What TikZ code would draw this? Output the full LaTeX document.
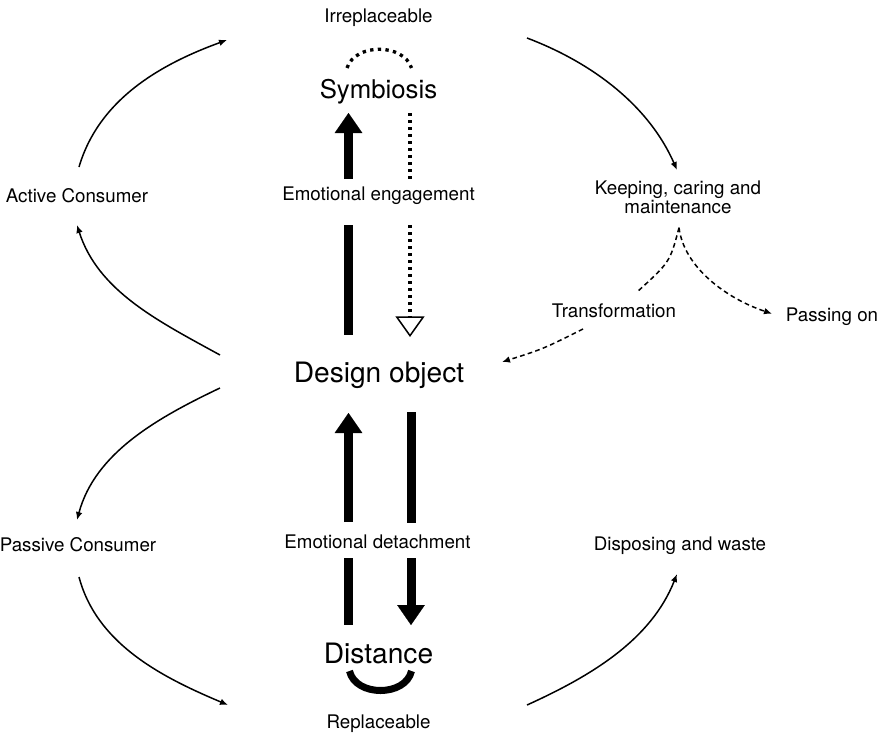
\documentclass[tikz,border=0pt]{standalone}
\usepackage{fontspec}
\setmainfont{TeX Gyre Heros}
\usetikzlibrary{arrows.meta}

\begin{document}
\begin{tikzpicture}[
  x=0.3mm,y=-0.3mm,
  lbl/.style={font=\fontsize{16}{15.6}\selectfont,anchor=base,inner sep=0pt},
  biglbl/.style={font=\fontsize{24}{24}\selectfont,anchor=base,inner sep=0pt},
  flow/.style={-{Latex[length=2.4mm,width=2mm]},line width=0.45mm},
  dashflow/.style={line width=0.45mm,dash pattern=on 1.4mm off 1mm},
  heavy/.style={line width=2.7mm},
  heavyflow/.style={heavy,-{Triangle[length=6mm,width=8.3mm,line width=0.1pt]}},
  dotline/.style={line width=1mm,dash pattern=on 0.9mm off 1.2mm},
  openflow/.style={dotline,-{Triangle[open,length=6.2mm,width=8.7mm,line width=1.3pt]}}
]
  \useasboundingbox (0,0) rectangle (880,739);

  % centre column
  \node[lbl] (irr) at (378.5,22) {Irreplaceable};
  \node[biglbl,font=\fontsize{22}{22}\selectfont] (symb) at (378.5,98) {Symbiosis};
  \node[lbl] (engage) at (378.5,200) {Emotional engagement};
  \node[biglbl] (design) at (379,382) {Design object};
  \node[lbl] (detach) at (377.5,548) {Emotional detachment};
  \node[biglbl] (dist) at (378.5,663) {Distance};
  \node[lbl] (repl) at (378.5,728) {Replaceable};

  % sides
  \node[lbl] (active) at (77,202) {Active Consumer};
  \node[lbl] (passive) at (78,551) {Passive Consumer};
  \node[lbl,anchor=north,align=center] (keep) at (678,181) {Keeping, caring and\\maintenance};
  \node[lbl] (transf) at (614,317) {Transformation};
  \node[lbl] (pass) at (832,321.7) {Passing on};
  \node[lbl] (dispose) at (680,550) {Disposing and waste};

  % engagement
  \draw[heavyflow] ([shift={(-30,-21)}]engage.base) -- ([shift={(-30,15)}]symb.base);
  \draw[dotline] ([shift={(31.5,15)}]symb.base) -- ([shift={(31.5,-21)}]engage.base);
  \draw[heavy] ([shift={(-30,25)}]engage.base) -- ([shift={(-30.5,-47)}]design.base);
  \draw[openflow] ([shift={(31.5,25)}]engage.base) -- ([shift={(31,-45)}]design.base);
  \draw[dotline,dash pattern=on 1mm off 1.3mm]
    ([shift={(-31.5,-30)}]symb.base) .. controls +(8,-25) and +(-8,-25) .. ([shift={(33,-30)}]symb.base);

  % detachment
  \draw[heavyflow] ([shift={(-29,-26)}]detach.base) -- ([shift={(-30.5,31)}]design.base);
  \draw[heavy] ([shift={(32,30)}]design.base) -- ([shift={(33.5,-25)}]detach.base);
  \draw[heavy] ([shift={(-29,10)}]detach.base) -- ([shift={(-30,-38)}]dist.base);
  \draw[heavyflow] ([shift={(33.5,10)}]detach.base) -- ([shift={(32.5,-38)}]dist.base);
  \draw[line width=2.1mm]
    ([shift={(-29,8)}]dist.base) .. controls +(6,26) and +(-6,26) .. ([shift={(33,8)}]dist.base);

  % consumer loops
  \draw[flow] ([shift={(2,-35)}]active.base) .. controls +(20,-68) and +(-66,24) .. ([shift={(-151.5,18)}]irr.base);
  \draw[flow] ([shift={(148.5,16)}]irr.base) .. controls +(66,25) and +(-28,-64) .. ([shift={(-1,-11)}]keep.north);
  \draw[flow] ([shift={(-159,-27)}]design.base) .. controls +(-62,-34) and +(21,66) .. ([shift={(0,23)}]active.base);
  \draw[flow] ([shift={(-159,6)}]design.base) .. controls +(-63,30) and +(18,-67) .. ([shift={(-1,-31)}]passive.base);
  \draw[flow] ([shift={(1,26)}]passive.base) .. controls +(18,68) and +(-64,-27) .. ([shift={(-150.5,-23)}]repl.base);
  \draw[flow] ([shift={(148.5,-23)}]repl.base) .. controls +(64,-29) and +(-26,66) .. ([shift={(-3,24)}]dispose.base);

  % after keeping
  \draw[dashflow] ([shift={(1,14)}]keep.south) .. controls (670,262) .. ([shift={(23,-25)}]transf.base);
  \draw[dashflow,-{Latex[length=2.4mm,width=2mm]}] ([shift={(1,14)}]keep.south) .. controls +(5,40) and +(-45,-15) .. ([shift={(-60,-8)}]pass.base);
  \draw[dashflow,-{Latex[length=2.4mm,width=2mm]}] ([shift={(-31,12)}]transf.base) .. controls (543,349) .. ([shift={(123,-20)}]design.base);
\end{tikzpicture}
\end{document}
